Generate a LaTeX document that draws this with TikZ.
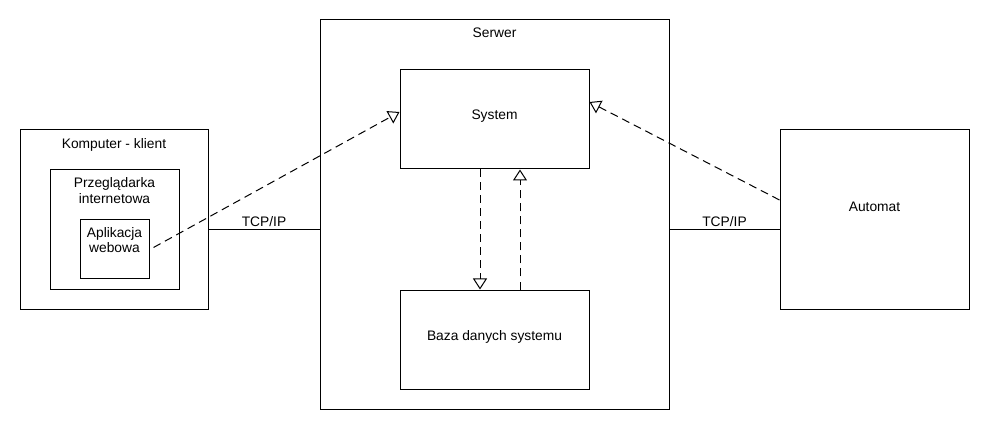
\documentclass[tikz,border=0pt]{standalone}
\usepackage{fontspec}
\setmainfont{Liberation Sans}
\usetikzlibrary{arrows.meta}
\begin{document}
\begin{tikzpicture}[x=1pt,y=-1pt,line width=1pt,
	font=\fontsize{13.8}{15.3}\selectfont,
	box/.style={draw,rectangle,inner sep=0pt},
	txt/.style={align=center,inner sep=0pt,anchor=base},
	dep/.style={dash pattern=on 8pt off 5pt,-{Triangle[open,width=14pt,length=11pt]}}]
	\useasboundingbox (0,0) rectangle (990,430);
	% klient
	\node[box,minimum width=188pt,minimum height=179pt] (komp) at (114,219.5) {};
	\node[txt] (kompt) at (114,148.3) {Komputer - klient};
	\node[box,minimum width=129pt,minimum height=119pt] (przeg) at (114.5,229.5) {};
	\node[txt] (przegt) at (114.5,203.3) {Przeglądarka\\internetowa};
	\node[box,minimum width=69pt,minimum height=59pt] (app) at (114.5,249.5) {};
	\node[txt] (appt) at (114.5,252.7) {Aplikacja\\webowa};
	% serwer
	\node[box,minimum width=349pt,minimum height=389pt] (serw) at (494.5,214.5) {};
	\node[txt] (serwt) at (494.5,38) {Serwer};
	\node[box,minimum width=189pt,minimum height=99pt] (sys) at (494.5,119.5) {};
	\node[txt] (syst) at (494.5,120) {System};
	\node[box,minimum width=189pt,minimum height=99pt] (baza) at (494.5,339.5) {};
	\node[txt] (bazat) at (494.5,340) {Baza danych systemu};
	% automat
	\node[box,minimum width=189pt,minimum height=179pt] (auto) at (874.5,219.5) {};
	\node[txt] (autot) at (874.5,212) {Automat};
	% polaczenia
	\draw (komp.east|-0,230) -- (serw.west|-0,230);
	\node[txt] (tcp1) at (264,226.5) {TCP/IP};
	\draw (serw.east|-0,230) -- (auto.west|-0,230);
	\node[txt] (tcp2) at (724.5,226.5) {TCP/IP};
	\draw[dep] ([xshift=4pt,yshift=2pt]app.east) -- ([yshift=7.5pt]sys.west);
	\draw[dep] ([yshift=19.5pt]auto.west) -- ([yshift=17.5pt]sys.east);
	\draw[dep] ([xshift=-14.5pt]sys.south) -- ([xshift=-14.5pt]baza.north);
	\draw[dep] ([xshift=25.5pt]baza.north) -- ([xshift=25.5pt]sys.south);
\end{tikzpicture}
\end{document}
